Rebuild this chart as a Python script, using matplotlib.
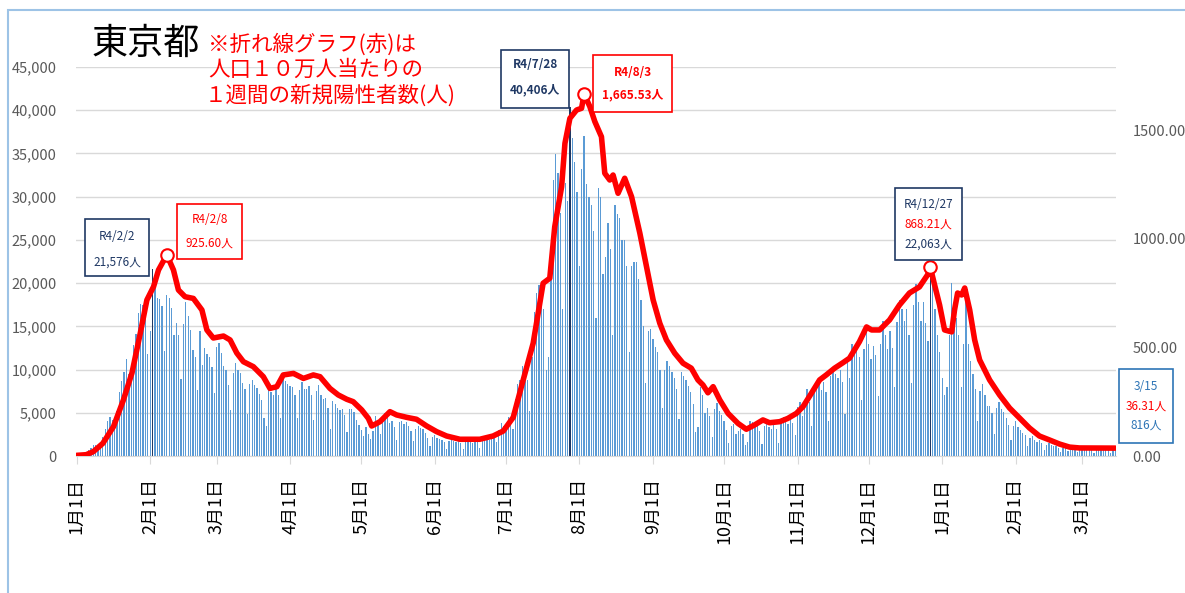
import matplotlib
matplotlib.use("Agg")
import matplotlib.pyplot as plt
from matplotlib.patches import Rectangle
import numpy as np
import pandas as pd

plt.rcParams['font.family'] = ['Noto Sans CJK JP', 'DejaVu Sans']

# 東京都 daily new cases, 2022-01-01 .. 2023-03-15 (one row = one week, Sat..Fri)
cases_2022_jan_mar = [
    79, 84, 103, 151, 390, 641, 922,
    1224, 1223, 871, 962, 2198, 3124, 4051,
    4561, 4172, 3709, 5185, 7377, 8638, 9699,
    11227, 9468, 8503, 12813, 14086, 16538, 17631,
    17433, 15895, 11751, 14445, 21576, 20679, 18287,
    18200, 17400, 12200, 18600, 18300, 17100, 14000,
    15400, 14000, 8900, 15300, 17800, 16200, 14600,
    12300, 11500, 7600, 14500, 10500, 12500, 11800,
    11400, 10300, 7300, 12600, 13100, 11900, 10400,
    9900, 8200, 5300, 9600, 10800, 10000, 9600,
    8500, 7800, 4900, 8300, 8800, 8200, 7900,
    7200, 6500, 4400, 3500, 8000, 7400, 7100,
    7900, 7000, 4400, 8900, 8700, 8300, 8100,
]
cases_2022_apr_jun = [
    8000, 7000, 4400, 7600, 8600, 7800, 7700,
    8100, 7000, 4200, 7500, 8200, 7100, 6600,
    6700, 5500, 3100, 6400, 6000, 5600, 5300,
    5400, 4700, 2800, 5400, 5400, 5100, 4200,
    3600, 3000, 2300, 3400, 2500, 2000, 2900,
    4600, 3900, 2500, 4400, 5000, 4500, 3800,
    4100, 3400, 1900, 3900, 4100, 3700, 3900,
    3500, 2900, 1700, 3100, 3500, 3200, 3100,
    2700, 2100, 1200, 2200, 2400, 2100, 2000,
    1900, 1600, 860, 1700, 1900, 1700, 1600,
    1700, 1500, 850, 1700, 1900, 1700, 1500,
    1900, 1700, 930, 1900, 2100, 1900, 1900,
    2500, 2300, 1600, 3000, 3800, 3500, 3300,
]
cases_2022_jul_sep = [
    4500, 4100, 3100, 6600, 8300, 8800, 10400,
    10000, 8800, 5200, 11500, 16700, 18900, 19800,
    18400, 17000, 10000, 11400, 20400, 31900, 34900,
    32698, 28112, 17000, 31593, 29485, 40406, 36814,
    34000, 30500, 21958, 33200, 36962, 31500, 30000,
    29000, 26000, 16000, 31000, 30000, 21000, 23000,
    27000, 24000, 14000, 29000, 28000, 27500, 25000,
    25000, 22000, 12000, 22000, 22500, 22500, 20500,
    18000, 15000, 8500, 14500, 14700, 13500, 12600,
    12000, 10000, 5500, 10000, 11000, 10400, 9700,
    9000, 7800, 4300, 9700, 9200, 8800, 8100,
    7400, 6000, 2800, 3300, 8000, 7100, 5000,
    5600, 4600, 2200, 5400, 6100, 5200, 4700,
]
cases_2022_oct_dec = [
    4000, 3000, 1500, 3500, 3700, 2600, 2900,
    3100, 2600, 1300, 1600, 4100, 3900, 3500,
    3600, 2900, 1400, 3500, 3900, 3400, 3100,
    3800, 3100, 1500, 4000, 4500, 4000, 3700,
    4600, 3800, 2400, 5700, 6300, 4600, 5600,
    7700, 6200, 3500, 8000, 8700, 8300, 7600,
    8600, 7400, 4000, 9300, 10200, 9500, 9000,
    10000, 8600, 4900, 11000, 9000, 13000, 12000,
    13000, 11500, 6500, 12400, 14500, 13000, 11200,
    12700, 11700, 6900, 13000, 15600, 14000, 12400,
    14500, 12500, 8000, 15500, 18100, 17000, 15600,
    17000, 14000, 8400, 17500, 19900, 17800, 15600,
    17800, 15400, 13337, 22063, 21000, 17000, 14000,
]
cases_2023 = [
    12000, 9000, 7000, 8000, 14000, 20000, 17000,
    16000, 14000, 8000, 13000, 19000, 13000, 11000,
    9500, 7800, 4000, 7500, 8300, 7000, 5800,
    5800, 5000, 2600, 5600, 6200, 5400, 5100,
    4400, 3600, 1800, 3500, 4000, 3400, 3000,
    2700, 2400, 1100, 2100, 2300, 1900, 1600,
    1800, 1500, 700, 1300, 1500, 1300, 1100,
    1100, 950, 480, 950, 1050, 600, 700,
    850, 780, 420, 850, 920, 750, 680,
    820, 750, 380, 820, 900, 800, 720,
    760, 700, 360, 942, 816,
]

# red line: weekly new cases per 100k (day index from 2022-01-01, value)
red_day = [0, 4, 7, 11, 15.5, 19.7, 23.3, 26.8, 29.6, 32.4, 34.5, 38, 40.8, 42.9,
           45.7, 49.2, 52.8, 54.9, 57.6, 61.9, 64.7, 67.5, 70.3, 74.5, 78.7, 81.5,
           84.4, 87.1, 91.4, 95.6, 99.8, 102.6, 106.8, 110.3, 113.9, 116.6, 120.2,
           123, 124.4, 127.9, 132.1, 134.9, 139.1, 143.3, 147.6, 151.8, 156, 161.6,
           170, 175.6, 179.9, 184.1, 188.3, 192.5, 196.7, 199.5, 201.6, 204.5,
           205.9, 208, 210.8, 212.9, 214, 216.4, 218.5, 221.3, 222.7, 224.8, 226.2,
           228.3, 231.1, 234, 237.5, 240.3, 243.1, 245.9, 248.7, 252.2, 255.7,
           259.2, 262, 264.1, 266.2, 268.4, 271.2, 274.7, 278.9, 282.4, 285.9,
           289.4, 292.2, 296.5, 299.9, 303.5, 306.3, 309.8, 313.3, 316.1, 319.6,
           323.1, 325.9, 328, 330.1, 333.1, 335.2, 338.6, 342.8, 347, 351.2, 355.4,
           358.8, 360, 361.8, 363.9, 366, 369, 370.2, 371.5, 373.2, 374.5, 376.6,
           378.7, 380.8, 385, 389.2, 393.4, 397.6, 401.8, 406, 410.2, 414.5, 418.7,
           422.9, 430, 438]
red_val = [3, 6, 20, 58, 135, 258, 382, 565, 718, 779, 856, 925.6, 856, 764,
           733, 725, 672, 580, 543, 552, 534, 474, 434, 411, 365, 311,
           319, 373, 380, 357, 373, 365, 311, 281, 261, 250, 212,
           173, 138, 158, 204, 189, 178, 169, 138, 112, 92, 77,
           77, 92, 115, 178, 350, 519, 795, 818, 1055, 1239,
           1439, 1554, 1592, 1600, 1665.53, 1608, 1539, 1469, 1301, 1270, 1293,
           1209, 1278, 1193, 1025, 871, 718, 611, 534, 473, 427,
           404, 350, 327, 291, 319, 258, 196, 150, 123, 143,
           166, 153, 158, 173, 196, 227, 288, 350, 373, 404,
           429, 450, 488, 526, 594, 580, 580, 626, 695, 750, 778,
           833, 868.21, 787, 695, 580, 571, 672, 750, 741, 773, 672,
           534, 442, 350, 281, 221, 175, 129, 92, 74, 55, 41,
           37, 36.5, 36.31]

peak_day = [38, 214, 360]
peak_val = [925.6, 1665.53, 868.21]
dark_bars = [32, 208, 360]

cases = cases_2022_jan_mar + cases_2022_apr_jun + cases_2022_jul_sep + cases_2022_oct_dec + cases_2023
days = np.arange(len(cases))
start = pd.Timestamp('2022-01-01')

W, H = 1185, 593
fig = plt.figure(figsize=(W / 100, H / 100), dpi=100)
ax = fig.add_axes([76 / W, 1 - 456 / H, 1040 / W, 389 / H])

colors = ['#5b9bd5'] * len(cases)
for i in dark_bars:
    colors[i] = '#1f3864'
ax.bar(days, cases, width=0.55, color=colors, linewidth=0)
ax.set_xlim(-0.3, 438.3)
ax.set_ylim(0, 45000)
ax.set_yticks(range(0, 45001, 5000))
ax.set_yticklabels([f'{v:,}' for v in range(0, 45001, 5000)])
ax.grid(axis='y', color='#d9d9d9', lw=1)
ax.set_axisbelow(True)
for s in ['left', 'right', 'top']:
    ax.spines[s].set_visible(False)
ax.spines['bottom'].set_color('#d9d9d9')
ax.tick_params(axis='y', length=0, colors='#595959', labelsize=10.5, pad=14)

months = pd.date_range('2022-01-01', '2023-03-01', freq='MS')
ax.set_xticks((months - start).days)
ax.set_xticklabels([f'{m.month}月1日' for m in months], rotation=90, fontsize=13)
ax.tick_params(axis='x', length=6, color='#d9d9d9', pad=10, labelcolor='black')

ax2 = ax.twinx()
ax2.set_ylim(0, 1790)
ax2.plot(red_day, red_val, color='#ff0000', lw=4, solid_joinstyle='round', solid_capstyle='round')
ax2.plot(peak_day, peak_val, 'o', mfc='white', mec='#ff0000', ms=9, mew=1.5)
ax2.set_yticks([0, 500, 1000, 1500])
ax2.set_yticklabels(['0.00', '500.00', '1000.00', '1500.00'])
ax2.tick_params(axis='y', length=0, colors='#595959', labelsize=10.5, pad=12)
for s in ax2.spines.values():
    s.set_visible(False)


def fx(x):
    return x / W


def fy(y):
    return 1 - y / H


# outer frame
fig.patches.append(Rectangle((fx(8), -0.1), 1.2, fy(10) + 0.1, transform=fig.transFigure,
                             fill=False, ec='#9dc3e6', lw=1.5))

fig.text(fx(92), fy(44), '東京都', fontsize=26, color='black', va='center')
fig.text(fx(208), fy(45), '※折れ線グラフ(赤)は', fontsize=15.5, color='#ff0000', va='center')
fig.text(fx(208), fy(70), '人口１０万人当たりの', fontsize=15.5, color='#ff0000', va='center')
fig.text(fx(205), fy(96), '１週間の新規陽性者数(人)', fontsize=15.5, color='#ff0000', va='center')

navy = '#1f3864'
red = '#ff0000'
blue = '#2e75b6'


def box(x0, y0, x1, y1, ec, lines, bold=False):
    fig.patches.append(Rectangle((fx(x0), fy(y1)), fx(x1 - x0), (y1 - y0) / H,
                                 transform=fig.transFigure, fill=True, fc='white', ec=ec, lw=1.2))
    for y, txt, c in lines:
        fig.text(fx((x0 + x1) / 2), fy(y), txt, color=c, fontsize=8.5, ha='center', va='center',
                 fontweight='bold' if bold else 'normal')


box(85, 219, 149, 276, navy, [(236, 'R4/2/2', navy), (262, '21,576人', navy)])
box(177, 204, 242, 259, red, [(220, 'R4/2/8', red), (243, '925.60人', red)])
box(501, 50, 569, 108, navy, [(65, 'R4/7/28', navy), (90, '40,406人', navy)], bold=True)
box(593, 55, 672, 112, red, [(72, 'R4/8/3', red), (95, '1,665.53人', red)], bold=True)
box(895, 188, 962, 260, navy, [(205, 'R4/12/27', navy), (224, '868.21人', red), (244, '22,063人', navy)])
box(1119, 369, 1173, 443, blue, [(387, '3/15', blue), (406, '36.31人', red), (425, '816人', blue)])

fig.savefig('out.png', dpi=100)
